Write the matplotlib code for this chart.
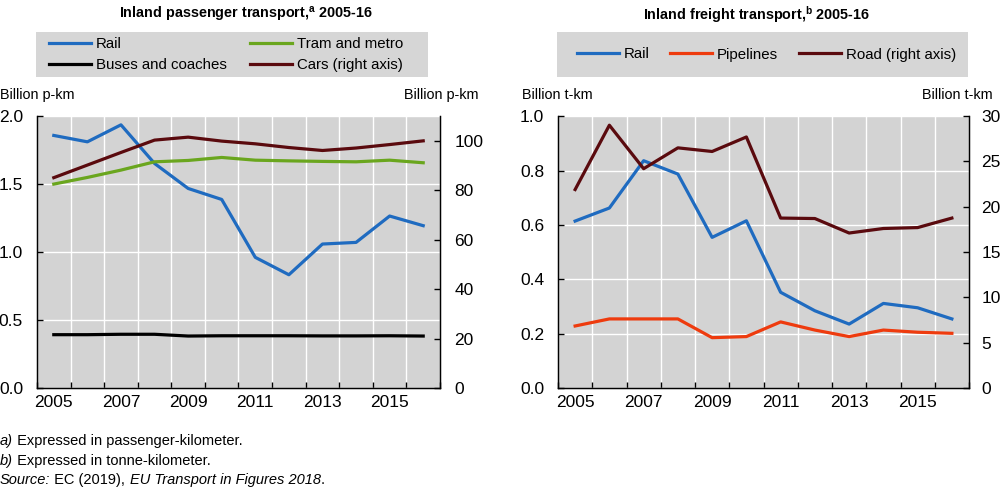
import matplotlib
matplotlib.use("Agg")
import matplotlib.pyplot as plt
from matplotlib.ticker import FixedLocator
from matplotlib.text import Annotation
from matplotlib.patches import Rectangle

plt.rcParams['font.family'] = ['Liberation Sans', 'DejaVu Sans']
plt.rcParams['mathtext.default'] = 'regular'

years = list(range(2005, 2017))
year_labels = ['2005', '2007', '2009', '2011', '2013', '2015']

# Passenger transport (billion p-km)
pass_rail = [1.858, 1.811, 1.936, 1.652, 1.468, 1.387, 0.961, 0.833, 1.059, 1.071, 1.265, 1.194]
pass_tram = [1.500, 1.549, 1.603, 1.664, 1.674, 1.696, 1.676, 1.671, 1.667, 1.664, 1.676, 1.657]
pass_bus = [0.392, 0.392, 0.395, 0.395, 0.382, 0.384, 0.384, 0.384, 0.383, 0.383, 0.384, 0.382]
pass_cars = [85.1, 90.2, 95.3, 100.3, 101.5, 99.9, 98.8, 97.3, 96.1, 97.1, 98.5, 100.0]

# Freight transport (billion t-km)
fr_rail = [0.614, 0.662, 0.836, 0.787, 0.554, 0.615, 0.352, 0.284, 0.235, 0.311, 0.295, 0.254]
fr_pipe = [0.228, 0.254, 0.254, 0.254, 0.185, 0.189, 0.243, 0.213, 0.189, 0.213, 0.205, 0.201]
fr_road = [21.9, 29.0, 24.2, 26.5, 26.1, 27.7, 18.75, 18.7, 17.1, 17.6, 17.7, 18.75]

BLUE = '#1f6bc0'
GREEN = '#6aa61e'
BLACK = '#000000'
DARKRED = '#5a0a0e'
ORANGE = '#ee3b0e'
BG = '#d3d3d3'
LEGBG = '#d6d6d6'
LW = 2.3
FS = 12.5     # tick labels
LFS = 10.8    # legend
UFS = 10.4    # unit labels
NFS = 10.5    # notes

W, H = 1000, 488
fig = plt.figure(figsize=(10, 4.88), dpi=100)

def setup(ax, ax2, ylim, yticks, ylim2, yticks2, yfmt, y2fmt, pad2):
    n = len(years)
    x = list(range(n))
    ax.set_facecolor(BG)
    ax.set_xlim(-0.5, n - 0.5)
    ax.set_ylim(*ylim)
    ax.set_yticks(yticks)
    ax.set_yticklabels([yfmt(v) for v in yticks], fontsize=FS)
    ax.set_xticks(x[::2])
    ax.set_xticklabels(year_labels, fontsize=FS)
    ax.xaxis.set_minor_locator(FixedLocator([i - 0.5 for i in range(n + 1)]))
    ax.tick_params(axis='x', which='major', length=0, pad=5)
    ax.tick_params(axis='x', which='minor', direction='in', length=4, width=1)
    ax.tick_params(axis='y', direction='in', length=4, width=1, pad=10)
    ax.grid(False)
    ax.xaxis.grid(True, which='minor', color='white', lw=1)
    ax.yaxis.grid(True, which='major', color='white', lw=1)
    ax.set_axisbelow(True)
    ax.spines['top'].set_visible(False)
    for s in ['left', 'right', 'bottom']:
        ax.spines[s].set_linewidth(1)
    ax2.set_ylim(*ylim2)
    ax2.set_yticks(yticks2)
    ax2.set_yticklabels([y2fmt(v) for v in yticks2], fontsize=FS)
    ax2.tick_params(axis='y', direction='in', length=4, width=1, pad=pad2)
    ax2.spines['top'].set_visible(False)
    return x

# Left panel
axL = fig.add_axes([0.037, 0.205, 0.403, 0.557])
axL2 = axL.twinx()
x = setup(axL, axL2, (0, 2.0), [0, 0.5, 1.0, 1.5, 2.0], (0, 110), [0, 20, 40, 60, 80, 100],
          lambda v: f'{v:.1f}', lambda v: f'{v:d}', 10.5)
l1, = axL.plot(x, pass_rail, color=BLUE, lw=LW, label='Rail')
l2, = axL.plot(x, pass_tram, color=GREEN, lw=LW, label='Tram and metro')
l3, = axL.plot(x, pass_bus, color=BLACK, lw=LW, label='Buses and coaches')
l4, = axL2.plot(x, pass_cars, color=DARKRED, lw=LW, label='Cars (right axis)')

# Right panel
axR = fig.add_axes([0.558, 0.205, 0.411, 0.557])
axR2 = axR.twinx()
x = setup(axR, axR2, (0, 1.0), [0, 0.2, 0.4, 0.6, 0.8, 1.0], (0, 30), [0, 5, 10, 15, 20, 25, 30],
          lambda v: f'{v:.1f}', lambda v: f'{v:d}', 9)
r1, = axR.plot(x, fr_rail, color=BLUE, lw=LW, label='Rail')
r2, = axR.plot(x, fr_pipe, color=ORANGE, lw=LW, label='Pipelines')
r3, = axR2.plot(x, fr_road, color=DARKRED, lw=LW, label='Road (right axis)')

# Titles
fig.text(0.246, 0.971, 'Inland passenger transport,$^{a}$ 2005-16', ha='center', va='center',
         fontsize=10.4, fontweight='bold')
fig.text(0.757, 0.971, 'Inland freight transport,$^{b}$ 2005-16', ha='center', va='center',
         fontsize=10.4, fontweight='bold')

# Legend backgrounds (pixel boxes converted to figure fractions)
for x0, x1 in [(36, 428), (557, 968)]:
    fig.add_artist(Rectangle((x0 / W, 1 - 77 / H), (x1 - x0) / W, 45 / H,
                             transform=fig.transFigure, facecolor=LEGBG, edgecolor='none',
                             zorder=0))

common = dict(frameon=False, fontsize=LFS, handlelength=2.8, handletextpad=0.3,
              borderpad=0, borderaxespad=0, labelspacing=0.45)
legL = fig.legend(handles=[l1, l3, l2, l4], ncol=2, loc='center left',
                  bbox_to_anchor=(49 / W, 1 - 54.5 / H), columnspacing=1.6, **common)
legR = fig.legend(handles=[r1, r2, r3], ncol=3, loc='center left',
                  bbox_to_anchor=(577 / W, 1 - 54.5 / H), columnspacing=1.4, **common)

# Axis unit labels
fig.text(0.0, 0.805, 'Billion p-km', ha='left', va='center', fontsize=UFS)
fig.text(0.478, 0.805, 'Billion p-km', ha='right', va='center', fontsize=UFS)
fig.text(0.522, 0.805, 'Billion t-km', ha='left', va='center', fontsize=UFS)
fig.text(0.993, 0.805, 'Billion t-km', ha='right', va='center', fontsize=UFS)

# Notes: italic and regular pieces chained on one line
def chain(ypx, parts):
    prev = fig.text(0.0, 1 - ypx / H, parts[0][0], ha='left', va='bottom',
                    fontsize=NFS, style=parts[0][1])
    for txt, style in parts[1:]:
        prev = fig.add_artist(Annotation(txt, xy=(1, 0), xycoords=prev, ha='left',
                                         va='bottom', fontsize=NFS, style=style,
                                         annotation_clip=False))

chain(448, [('a)', 'italic'), (' Expressed in passenger-kilometer.', 'normal')])
chain(467.5, [('b)', 'italic'), (' Expressed in tonne-kilometer.', 'normal')])
chain(487, [('Source:', 'italic'), (' EC (2019), ', 'normal'),
            ('EU Transport in Figures 2018', 'italic'), ('.', 'normal')])

fig.savefig('out.png', dpi=100)
